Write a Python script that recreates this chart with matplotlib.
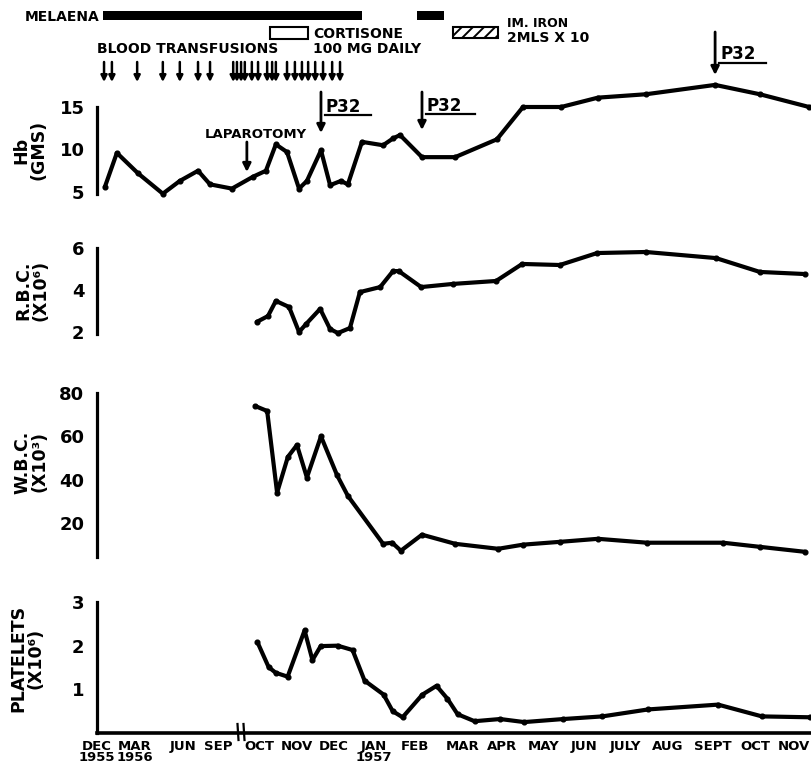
import matplotlib
matplotlib.use("Agg")
import matplotlib.pyplot as plt
from matplotlib.patches import Rectangle

# ---------------- data (x in chart time units: 1 unit ~ one label step) -------------
hb_x = [0.19, 0.48, 0.99, 1.59, 2.00, 2.44, 2.73, 3.26, 3.77, 4.08, 4.32, 4.59, 4.88,
        5.07, 5.41, 5.63, 5.89, 6.06, 6.40, 6.91, 7.15, 7.32, 7.85, 8.65, 9.66, 10.29,
        11.21, 12.10, 13.26, 14.93, 16.01, 17.20]
hb_y = [5.6, 9.6, 7.2, 4.8, 6.3, 7.5, 5.9, 5.4, 6.8, 7.5, 10.6, 9.7, 5.4,
        6.3, 9.9, 5.8, 6.3, 5.9, 10.9, 10.5, 11.3, 11.7, 9.1, 9.1, 11.2, 15.0,
        15.0, 16.1, 16.5, 17.6, 16.5, 15.0]

rbc_x = [3.86, 4.13, 4.32, 4.64, 4.88, 5.05, 5.39, 5.63, 5.82, 6.11, 6.35, 6.84,
         7.15, 7.29, 7.83, 8.60, 9.64, 10.27, 11.18, 12.08, 13.26, 14.95, 16.01, 17.10]
rbc_y = [2.48, 2.76, 3.48, 3.19, 2.0, 2.38, 3.1, 2.14, 1.95, 2.19, 3.9, 4.14,
         4.9, 4.9, 4.14, 4.29, 4.43, 5.24, 5.19, 5.76, 5.81, 5.52, 4.86, 4.76]

wbc_x = [3.82, 4.11, 4.35, 4.61, 4.83, 5.07, 5.41, 5.80, 6.06, 6.91, 7.13, 7.34,
         7.85, 8.65, 9.69, 10.29, 11.18, 12.10, 13.29, 15.12, 16.01, 17.10]
wbc_y = [74, 71.7, 34, 50.5, 56, 41, 60, 42, 32.5, 10.4, 10.9, 7.2,
         14.6, 10.4, 8.1, 10, 11.3, 12.7, 10.9, 10.9, 9, 6.7]

plt_x = [3.86, 4.13, 4.30, 4.59, 5.00, 5.19, 5.39, 5.80, 6.16, 6.45, 6.91, 7.13, 7.37,
         7.85, 8.19, 8.45, 8.70, 9.11, 9.73, 10.31, 11.26, 12.20, 13.31, 15.00, 16.06, 17.22]
plt_y = [2.08, 1.51, 1.38, 1.29, 2.35, 1.67, 1.99, 2.0, 1.9, 1.2, 0.88, 0.5, 0.36,
         0.88, 1.08, 0.79, 0.43, 0.27, 0.32, 0.25, 0.32, 0.38, 0.54, 0.65, 0.38, 0.36]

month_labels = ["DEC\n1955", "MAR\n1956", "JUN", "SEP", "OCT", "NOV", "DEC", "JAN\n1957",
                "FEB", "MAR", "APR", "MAY", "JUN", "JULY", "AUG", "SEPT", "OCT", "NOV"]
month_pos = [-0.02, 0.89, 2.05, 2.92, 3.91, 4.81, 5.70, 6.67, 7.66, 8.82, 9.78,
             10.77, 11.76, 12.75, 13.79, 14.86, 15.89, 16.84]

transfusions = [0.17, 0.36, 0.97, 1.59, 2.00, 2.44, 2.73, 3.29, 3.38, 3.48, 3.57, 3.74,
                3.89, 4.11, 4.23, 4.32, 4.59, 4.78, 4.95, 5.10, 5.27, 5.46, 5.68, 5.87]
melaena_periods = [(0.14, 6.40), (7.73, 8.38)]
laparotomy_x = 3.62
p32_x = [5.41, 7.85, 14.93]

# ---------------- layout ----------------
W, H = 812, 766
X0 = 97
PXU = 41.4
XMAX = (W - X0) / PXU

plt.rcParams["font.family"] = ["DejaVu Sans"]
plt.rcParams["font.weight"] = "bold"
plt.rcParams["hatch.linewidth"] = 1.4

fig = plt.figure(figsize=(W / 100, H / 100), dpi=100)


def make_ax(top, bot, v_hi, p_hi, v_lo, p_lo, ticks, spine_lo, spine_hi, bottom=False):
    scale = (p_lo - p_hi) / (v_hi - v_lo)
    ymax = v_hi + (p_hi - top) / scale
    ymin = v_lo - (bot - p_lo) / scale
    ax = fig.add_axes([X0 / W, 1 - bot / H, (W - X0) / W, (bot - top) / H])
    ax.patch.set_visible(False)
    ax.set_xlim(0, XMAX)
    ax.set_ylim(ymin, ymax)
    for s in ("top", "right"):
        ax.spines[s].set_visible(False)
    ax.spines["left"].set_linewidth(2.3)
    ax.spines["left"].set_bounds(spine_lo, spine_hi)
    ax.set_yticks(ticks)
    ax.set_yticklabels([str(t) for t in ticks])
    ax.tick_params(axis="y", length=0, pad=9, labelsize=13)
    if bottom:
        ax.spines["bottom"].set_linewidth(2.6)
        ax.spines["bottom"].set_position(("data", 0))
        ax.set_xticks(month_pos)
        ax.set_xticklabels(month_labels, linespacing=0.85)
        ax.tick_params(axis="x", length=0, pad=5, labelsize=9.5)
    else:
        ax.spines["bottom"].set_visible(False)
        ax.set_xticks([])
    return ax


def draw(ax, x, y):
    ax.plot(x, y, color="black", lw=3.0, marker="o", ms=3.4,
            solid_joinstyle="round", solid_capstyle="round", clip_on=False)


ax_hb = make_ax(80, 200, 15, 107, 5, 192, [5, 10, 15], 4.75, 15)
ax_rbc = make_ax(240, 340, 6, 248, 2, 332, [2, 4, 6], 1.9, 6)
ax_wbc = make_ax(385, 566, 80, 393, 20, 523, [20, 40, 60, 80], 4.3, 80)
ax_plt = make_ax(595, 733, 3, 602, 0, 733, [1, 2, 3], 0, 3, bottom=True)

draw(ax_hb, hb_x, hb_y)
draw(ax_rbc, rbc_x, rbc_y)
draw(ax_wbc, wbc_x, wbc_y)
draw(ax_plt, plt_x, plt_y)


def T(px, py, s, **kw):
    return fig.text(px / W, 1 - py / H, s, **kw)


# y labels
lab_kw = dict(rotation=90, ha="center", va="center", fontsize=12.5,
              linespacing=0.95, multialignment="center")
T(30, 150, "Hb\n(GMS)", **lab_kw)
T(32, 290, "R.B.C.\n(X10\u2076)", **lab_kw)
T(31, 462, "W.B.C.\n(X10\u00b3)", **lab_kw)
T(27, 658, "PLATELETS\n(X10\u2076)", **lab_kw)

# overlay for annotations (x in chart units, y in pixels)
ov = fig.add_axes([0, 0, 1, 1])
ov.set_xlim(-X0 / PXU, XMAX)
ov.set_ylim(H, 0)
ov.axis("off")
ov.patch.set_visible(False)

for a, b in melaena_periods:
    ov.add_patch(Rectangle((a, 11), b - a, 9, color="black", lw=0))
T(25, 21, "MELAENA", fontsize=10, va="baseline", ha="left")

T(97, 53, "BLOOD TRANSFUSIONS", fontsize=10, va="baseline", ha="left")

arrow_kw = dict(arrowstyle="-|>", color="black", lw=1.8, mutation_scale=9,
                shrinkA=0, shrinkB=0)
for u in transfusions:
    ov.annotate("", xy=(u, 82), xytext=(u, 62), arrowprops=arrow_kw)

# cortisone legend
fig.patches.append(Rectangle((270 / W, 1 - 39 / H), 38 / W, 12 / H,
                             transform=fig.transFigure, fill=False, lw=1.5,
                             edgecolor="black"))
T(313, 38, "CORTISONE", fontsize=10, va="baseline", ha="left")
T(313, 53, "100 MG DAILY", fontsize=10, va="baseline", ha="left")

# iron legend
fig.patches.append(Rectangle((453 / W, 1 - 38 / H), 45 / W, 11 / H,
                             transform=fig.transFigure, fill=False, lw=1.5,
                             edgecolor="black", hatch="///"))
T(507, 27, "IM. IRON", fontsize=9, va="baseline", ha="left")
T(507, 42, "2MLS X 10", fontsize=10, va="baseline", ha="left")

# laparotomy
T(205, 138, "LAPAROTOMY", fontsize=9.5, va="baseline", ha="left")
big_arrow = dict(arrowstyle="-|>", color="black", lw=2.0, mutation_scale=12,
                 shrinkA=0, shrinkB=0)
ov.annotate("", xy=(laparotomy_x, 172), xytext=(laparotomy_x, 142), arrowprops=big_arrow)

# P32 markers: (arrow top, arrow bottom, text baseline, underline y, underline length px)
p32_geom = [(92, 133, 112, 115, 46), (92, 130, 111, 114, 49), (32, 75, 59, 63, 47)]
for u, (ta, tb, tbase, uy, ul) in zip(p32_x, p32_geom):
    ov.annotate("", xy=(u, tb), xytext=(u, ta), arrowprops=big_arrow)
    ov.text(u + 5 / PXU, tbase, "P32", fontsize=12, va="baseline", ha="left")
    ov.plot([u + 4 / PXU, u + (4 + ul) / PXU], [uy, uy], color="black", lw=1.6)

# axis break marks
for bx in (238, 244):
    u = (bx - X0) / PXU
    ov.plot([u - 0.5 / PXU, u + 0.5 / PXU], [724, 740], color="black", lw=1.6)

fig.savefig("out.png", dpi=100)
